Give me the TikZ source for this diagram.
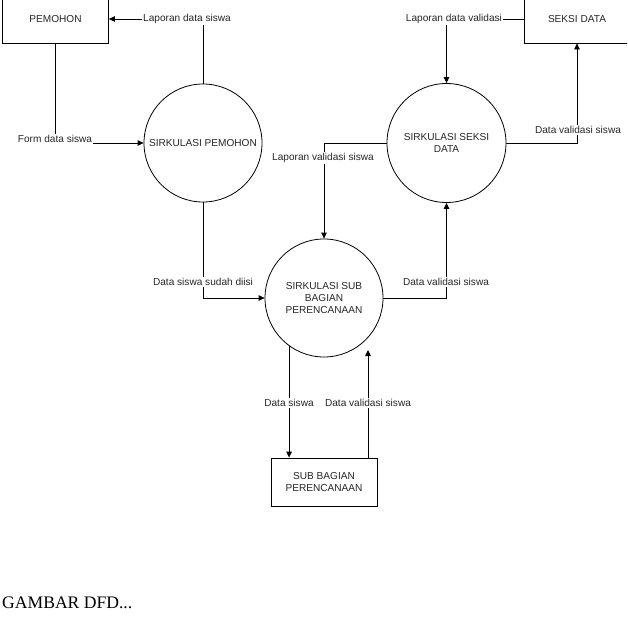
\documentclass[tikz,border=0pt]{standalone}
\usepackage{fontspec}
\setmainfont{Liberation Sans}
\newfontfamily\timesfont{Liberation Serif}
\usetikzlibrary{arrows.meta}
\begin{document}
\begin{tikzpicture}[x=1pt,y=-1pt,
  every node/.style={font=\fontsize{10.1}{12.2}\selectfont, text=black!85},
  proc/.style={draw, circle, minimum size=119pt, inner sep=0pt, align=center, line width=0.8pt},
  ent/.style={draw, rectangle, minimum width=106pt, minimum height=48pt, inner sep=0pt, align=center, line width=0.8pt},
  lbl/.style={fill=white, inner sep=1pt},
  arr/.style={draw, line width=0.8pt, -{Triangle[length=6pt,width=5.5pt]}},
  ln/.style={draw, line width=0.8pt}]
\clip (0,0) rectangle (627,637);
\fill[white] (0,0) rectangle (627,637);

% entities
\node[ent] (pem) at (55.5,19) {PEMOHON};
\node[ent] (seksi) at (577,19) {SEKSI DATA};
\node[ent] (subbox) at (324,482) {SUB BAGIAN\\PERENCANAAN};

% processes
\node[proc, minimum size=118pt] (ps) at (203,143) {SIRKULASI PEMOHON};
\node[proc] (sd) at (446.5,143) {SIRKULASI SEKSI\\DATA};
\node[proc, minimum size=118pt] (sub) at (324,298) {SIRKULASI SUB\\BAGIAN\\PERENCANAAN};

% connectors
\draw[arr] (ps.north) |- (pem.east);
\node[lbl] (l1) at (187,19) {Laporan data siswa};

\draw[arr] (pem.south) |- (ps.west);
\node[lbl] (l2) at (55,139) {Form data siswa};

\draw[arr] (ps.south) |- (sub.west);
\node[lbl] (l3) at (203,282) {Data siswa sudah diisi};

\draw[arr] (sub.east) -| (sd.south);
\node[lbl] (l4) at (446,282) {Data validasi siswa};

\draw[arr] (sd.west) -| (sub.north);
\node[lbl] (l5) at (323,158) {Laporan validasi siswa};

\draw[arr] (sd.east) -| (seksi.south);
\node[lbl] (l6) at (578,130) {Data validasi siswa};

\draw[arr] (seksi.west) -| (sd.north);
\node[lbl] (l7) at (454,19) {Laporan data validasi};

\draw[arr] (sub.-126) -- (sub.-126 |- subbox.north);
\node[lbl] (l8) at (289,403) {Data siswa};

\coordinate (vtip) at (368,350);
\draw[arr] (vtip |- subbox.north) -- (vtip);
\node[lbl] (l9) at (368,403) {Data validasi siswa};

% caption
\node[anchor=base west, inner sep=0pt, font=\timesfont\fontsize{17.6}{20}\selectfont, text=black] (cap) at (2,608) {GAMBAR DFD...};
\end{tikzpicture}
\end{document}
